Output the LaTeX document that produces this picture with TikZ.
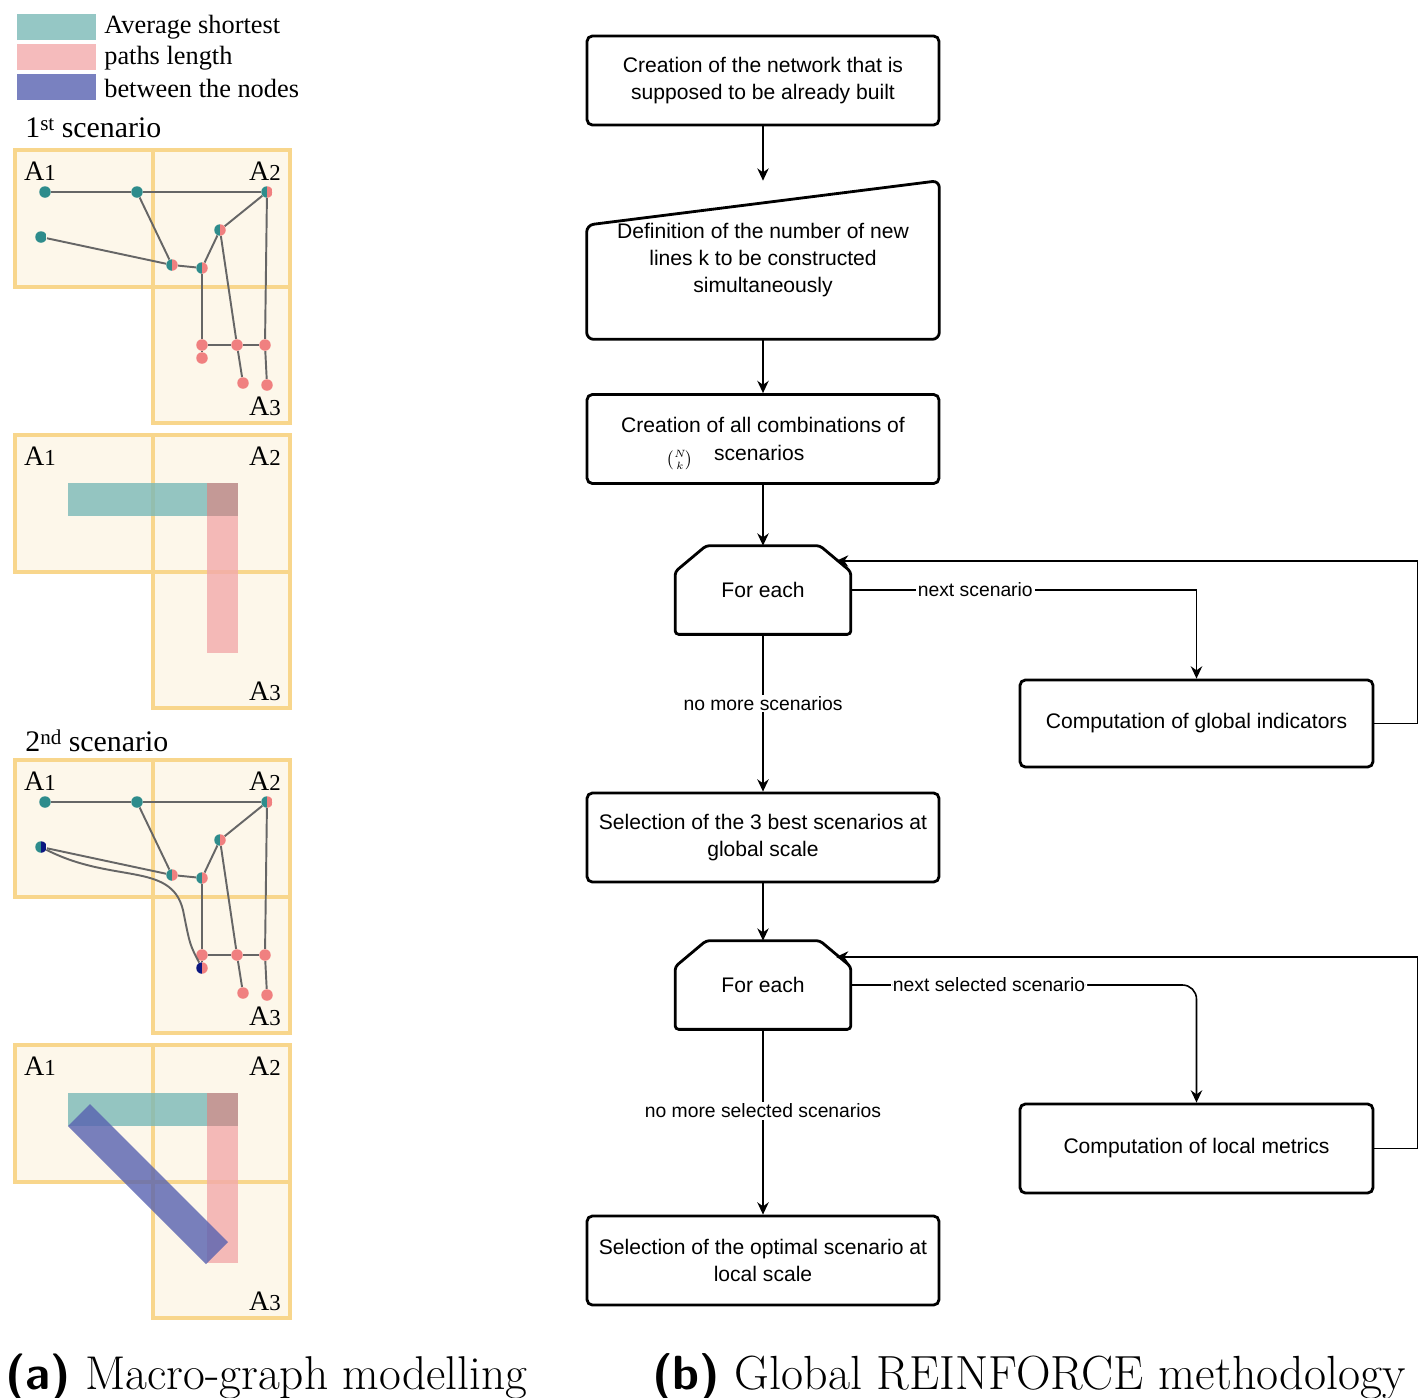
\documentclass[tikz,border=0pt]{standalone}
\usepackage{amsmath}
\usepackage{fontspec}
\newfontfamily\arialfont{Liberation Sans}
\newfontfamily\timesfont{Liberation Serif}
\usetikzlibrary{calc,arrows.meta}
\definecolor{cellfill}{HTML}{FDF7EA}
\definecolor{cellline}{HTML}{F8D68C}
\definecolor{lteal}{HTML}{7AB9B7}
\definecolor{lpink}{HTML}{F2AAAB}
\definecolor{lblue}{HTML}{5762B0}
\definecolor{rose}{HTML}{C49996}
\definecolor{dteal}{HTML}{2E8C8C}
\definecolor{dpink}{HTML}{F08080}
\definecolor{navy}{HTML}{0B1780}
\begin{document}
\begin{tikzpicture}[>={Stealth[length=7pt,width=6.5pt]},x=0.02cm,y=-0.02cm,
  cell/.style={fill=cellfill,draw=cellline,line width=2.8pt},
  alab/.style={inner sep=0pt,font=\timesfont\fontsize{16}{16}\selectfont},
  gdot/.style={circle,inner sep=0pt,minimum size=0.23cm,fill=#1},
  hdot/.style 2 args={circle,inner sep=0pt,minimum size=0.23cm,path picture={
      \path[fill=#1] (path picture bounding box.south west) rectangle (path picture bounding box.north);
      \path[fill=#2] (path picture bounding box.south) rectangle (path picture bounding box.north east);}},
  edge/.style={draw=black!60,line width=1.1pt},
  bare/.style={minimum width=7.04cm,minimum height=1.78cm,align=center,inner sep=2pt,font=\arialfont\fontsize{12}{15.4}\selectfont},
  box/.style={bare,draw,line width=1.6pt,rounded corners=3pt},
  flow/.style={->,line width=0.9pt},
  lbl/.style={fill=white,inner sep=1pt,font=\arialfont\fontsize{11}{13}\selectfont}]
\useasboundingbox (0,0) rectangle (1424,1397);

% legend
\fill[lteal,opacity=0.8] (17,14) rectangle (96,40);
\fill[lpink,opacity=0.8] (17,44) rectangle (96,70);
\fill[lblue,opacity=0.8] (17,74) rectangle (96,100);
\node[anchor=west,inner sep=0pt,font=\timesfont\fontsize{15}{15}\selectfont] (leg1) at (104,27) {Average shortest};
\node[anchor=west,inner sep=0pt,font=\timesfont\fontsize{15}{15}\selectfont] (leg2) at (104,58) {paths length};
\node[anchor=west,inner sep=0pt,font=\timesfont\fontsize{15}{15}\selectfont] (leg3) at (104,88) {between the nodes};
\node[anchor=west,inner sep=0pt,font=\timesfont\fontsize{17}{17}\selectfont] (scen1) at (25,128) {1{\fontsize{12}{12}\selectfont\raisebox{4pt}{st}} scenario};
\node[anchor=west,inner sep=0pt,font=\timesfont\fontsize{17}{17}\selectfont] (scen2) at (25,741) {2{\fontsize{12}{12}\selectfont\raisebox{4pt}{nd}} scenario};

% macro cells
\foreach \oy in {0,285,610,895}{
  \begin{scope}[shift={(0,\oy)}]
    \draw[cell] (15,150) rectangle (153,287);
    \draw[cell] (153,150) rectangle (290,287);
    \draw[cell] (153,287) rectangle (290,423);
    \node[alab] (A1-\oy) at (40,171) {A{\fontsize{13}{13}\selectfont 1}};
    \node[alab] (A2-\oy) at (265,171) {A{\fontsize{13}{13}\selectfont 2}};
    \node[alab] (A3-\oy) at (265,406) {A{\fontsize{13}{13}\selectfont 3}};
  \end{scope}}

% shortest paths bands
\foreach \oy in {0,610}{
  \begin{scope}[shift={(0,\oy)}]
    \fill[lteal,fill opacity=0.8] (68,483) rectangle (238,516);
    \fill[lpink,fill opacity=0.8] (207,483) rectangle (238,653);
    \fill[rose] (207,483) rectangle (238,516);
  \end{scope}}
\fill[lblue,fill opacity=0.8] (68,1126) -- (90,1104) -- (228,1242) -- (206,1264) -- cycle;

% graphs
\foreach \p/\oy/\cd/\ce in {a/0/dteal/dpink,b/610/navy/navy}{
  \begin{scope}[shift={(0,\oy)}]
    \node[gdot=dteal] (\p1) at (45,192) {};
    \node[gdot=dteal] (\p2) at (137,192) {};
    \node[hdot={dteal}{dpink}] (\p3) at (267,192) {};
    \node[hdot={dteal}{\cd}] (\p4) at (41,237) {};
    \node[hdot={dteal}{dpink}] (\p5) at (172,265) {};
    \node[hdot={dteal}{dpink}] (\p6) at (202,268) {};
    \node[hdot={dteal}{dpink}] (\p7) at (220,230) {};
    \node[gdot=dpink] (\p8) at (202,345) {};
    \node[hdot={\ce}{dpink}] (\p9) at (202,358) {};
    \node[gdot=dpink] (\p10) at (237,345) {};
    \node[gdot=dpink] (\p11) at (265,345) {};
    \node[gdot=dpink] (\p12) at (243,383) {};
    \node[gdot=dpink] (\p13) at (267,385) {};
    \draw[edge] (\p1) -- (\p2) -- (\p3) -- (\p7) -- (\p6) -- (\p5) -- (\p2);
    \draw[edge] (\p4) -- (\p5);
    \draw[edge] (\p6) -- (\p8) -- (\p10) -- (\p11) -- (\p3);
    \draw[edge] (\p7) -- (\p10) -- (\p12);
    \draw[edge] (\p11) -- (\p13);
    \draw[edge] (\p8) -- (\p9);
  \end{scope}}
\draw[edge] (b4) .. controls (115,885) and (175,860) .. (184,915) .. controls (190,945) .. (b9);

% flowchart
\node[box] (net) at (763,80.5) {Creation of the network that is\\supposed to be already built};
\node[bare,minimum height=3.16cm] (def) at (763,260) {Definition of the number of new\\lines k to be constructed\\simultaneously};
\draw[line width=1.6pt,rounded corners=4pt] (def.south west) -- (def.south east) -- (def.north east) -- ($(def.south west)!0.72!(def.north west)$) -- cycle;
\node[box] (comb) at (763,439) {Creation of all combinations of\\[1pt]\smash{\raisebox{-2pt}{\fontsize{9}{9}\selectfont$\tbinom{N}{k}$}}\quad scenarios\hspace*{2.6em}};
\node[bare,minimum width=3.5cm,minimum height=1.76cm] (each1) at (763,590) {For each};
\draw[line width=1.6pt,rounded corners=2pt] (each1.south west) -- (each1.south east) -- ($(each1.north east)+(0,26)$) -- ($(each1.north east)+(-31,0)$) -- ($(each1.north west)+(31,0)$) -- ($(each1.north west)+(0,26)$) -- cycle;
\node[box,minimum width=7.06cm,minimum height=1.74cm] (glob) at (1196.5,723.5) {Computation of global indicators};
\node[box] (best) at (763,837.5) {Selection of the 3 best scenarios at\\global scale};
\node[bare,minimum width=3.5cm,minimum height=1.76cm] (each2) at (763,985) {For each};
\draw[line width=1.6pt,rounded corners=2pt] (each2.south west) -- (each2.south east) -- ($(each2.north east)+(0,26)$) -- ($(each2.north east)+(-31,0)$) -- ($(each2.north west)+(31,0)$) -- ($(each2.north west)+(0,26)$) -- cycle;
\node[box,minimum width=7.06cm] (loc) at (1196.5,1148.5) {Computation of local metrics};
\node[box] (opt) at (763,1260.5) {Selection of the optimal scenario at\\local scale};
\coordinate (back1) at (836,561);
\coordinate (back2) at (836,957);

\draw[flow] (net) -- (def);
\draw[flow] (def) -- (comb);
\draw[flow] (comb) -- (each1);
\draw[flow] (each1) -| node[lbl,pos=0.18] {next scenario} (glob);
\draw[flow] (glob.east) -- ++(43,0) |- (back1);
\draw[flow] (each1) -- node[lbl,pos=0.44] {no more scenarios} (best);
\draw[flow] (best) -- (each2);
\draw[flow,rounded corners=8pt] (each2) -| node[lbl,pos=0.2] {next selected scenario} (loc);
\draw[flow] (loc.east) -- ++(43,0) |- (back2);
\draw[flow] (each2) -- node[lbl,pos=0.44] {no more selected scenarios} (opt);

% captions
\node[anchor=base west,inner sep=0pt,font=\fontsize{27}{27}\selectfont] (capa) at (5,1389) {{\sffamily\bfseries (a)} Macro-graph modelling};
\node[anchor=base west,inner sep=0pt,font=\fontsize{27.3}{27}\selectfont] (capb) at (652,1389) {{\sffamily\bfseries (b)} Global REINFORCE methodology};
\end{tikzpicture}
\end{document}
